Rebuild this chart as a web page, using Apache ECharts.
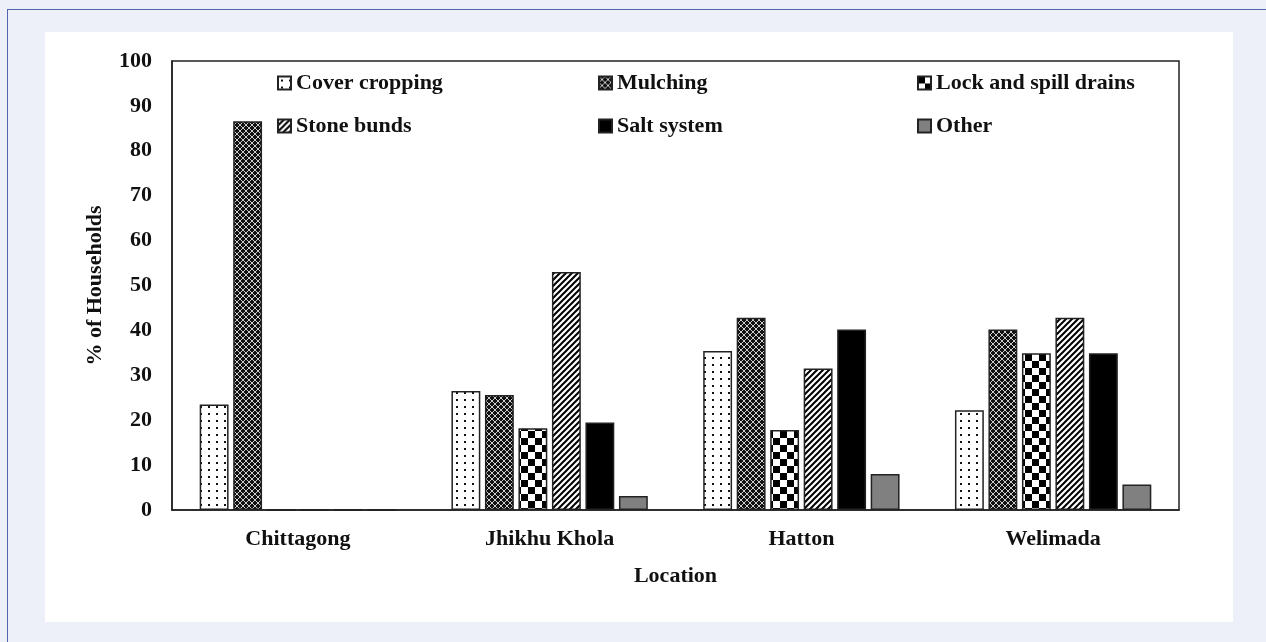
<!DOCTYPE html>
<html>
<head>
<meta charset="utf-8">
<script src="https://cdn.jsdelivr.net/npm/echarts@6/dist/echarts.min.js"></script>
<style>
  html, body { margin: 0; padding: 0; width: 1266px; height: 642px; overflow: hidden; background: #edf0f8; }
  .frame { position: absolute; left: 7px; top: 9px; width: 1400px; height: 800px; border: 1px solid #5565ad; }
  #chart { position: absolute; left: 45px; top: 32px; width: 1188px; height: 590px; background: #fff; }
</style>
</head>
<body>
<div class="frame"></div>
<div id="chart"></div>
<script>
// data (% of households)
const locations = ['Chittagong', 'Jhikhu Khola', 'Hatton', 'Welimada'];
const coverCropping = [23.5, 26.5, 35.4, 22.2];
const mulching = [86.6, 25.6, 42.8, 40.2];
const lockSpill = [0, 18.2, 17.8, 34.9];
const stoneBunds = [0, 53.0, 31.5, 42.8];
const saltSystem = [0, 19.5, 40.2, 34.9];
const other = [0, 3.1, 8.0, 5.7];

// little canvas tiles used as fill patterns
function tile(w, h, draw) {
  const c = document.createElement('canvas');
  c.width = w; c.height = h;
  const ctx = c.getContext('2d');
  draw(ctx, w, h);
  return { image: c, repeat: 'repeat' };
}

const dots = tile(8, 7, (ctx) => {
  ctx.fillStyle = '#fff'; ctx.fillRect(0, 0, 8, 7);
  ctx.fillStyle = '#111'; ctx.fillRect(3, 3, 2, 2);
});
const net = tile(6, 6, (ctx) => {
  ctx.fillStyle = '#111'; ctx.fillRect(0, 0, 6, 6);
  ctx.strokeStyle = '#ccc'; ctx.lineWidth = 1;
  ctx.beginPath();
  ctx.moveTo(0, 0); ctx.lineTo(6, 6);
  ctx.moveTo(6, 0); ctx.lineTo(0, 6);
  ctx.stroke();
});
const checks = tile(14, 14, (ctx) => {
  ctx.fillStyle = '#fff'; ctx.fillRect(0, 0, 14, 14);
  ctx.fillStyle = '#000';
  ctx.fillRect(0, 0, 7, 7); ctx.fillRect(7, 7, 7, 7);
});
const stripes = tile(6, 6, (ctx) => {
  ctx.fillStyle = '#fff'; ctx.fillRect(0, 0, 6, 6);
  ctx.strokeStyle = '#000'; ctx.lineWidth = 2;
  ctx.beginPath();
  ctx.moveTo(-1, 7); ctx.lineTo(7, -1);
  ctx.moveTo(-4, 4); ctx.lineTo(4, -4);
  ctx.moveTo(2, 10); ctx.lineTo(10, 2);
  ctx.stroke();
});

const font = '"Liberation Serif", "Times New Roman", serif';
const txt = { fontFamily: font, fontWeight: 'bold', fontSize: 22, color: '#111' };

function bar(name, data, fill) {
  return {
    name: name,
    type: 'bar',
    data: data,
    barGap: '16%',
    barCategoryGap: '22%',
    itemStyle: { color: fill, borderColor: '#222', borderWidth: 1.5 }
  };
}

function legendCol(left, names) {
  return {
    orient: 'vertical',
    left: left,
    top: 35,
    data: names,
    icon: 'rect',
    itemWidth: 13,
    itemHeight: 13,
    itemGap: 21,
    selectedMode: false,
    textStyle: Object.assign({}, txt, { lineHeight: 22 })
  };
}

const chart = echarts.init(document.getElementById('chart'));
chart.setOption({
  animation: false,
  textStyle: { fontFamily: font },
  grid: { left: 127, top: 29, right: 54, bottom: 112, show: true, borderColor: '#222', borderWidth: 1.5 },
  legend: [
    legendCol(227, ['Cover cropping', 'Stone bunds']),
    legendCol(548, ['Mulching', 'Salt system']),
    legendCol(867, ['Lock and spill drains', 'Other'])
  ],
  xAxis: {
    type: 'category',
    data: locations,
    name: 'Location',
    nameLocation: 'middle',
    nameGap: 55,
    nameTextStyle: txt,
    axisLine: { lineStyle: { color: '#222', width: 1.5 } },
    axisTick: { show: false },
    axisLabel: Object.assign({ margin: 18 }, txt)
  },
  yAxis: {
    type: 'value',
    min: 0,
    max: 100,
    interval: 10,
    name: '% of Households',
    nameLocation: 'middle',
    nameGap: 66,
    nameTextStyle: txt,
    axisLine: { show: true, lineStyle: { color: '#222', width: 1.5 } },
    axisTick: { show: false },
    splitLine: { show: false },
    axisLabel: Object.assign({ margin: 20 }, txt)
  },
  series: [
    bar('Cover cropping', coverCropping, dots),
    bar('Mulching', mulching, net),
    bar('Lock and spill drains', lockSpill, checks),
    bar('Stone bunds', stoneBunds, stripes),
    bar('Salt system', saltSystem, '#000'),
    bar('Other', other, '#808080')
  ]
});
window.addEventListener('resize', () => chart.resize());
</script>
</body>
</html>
